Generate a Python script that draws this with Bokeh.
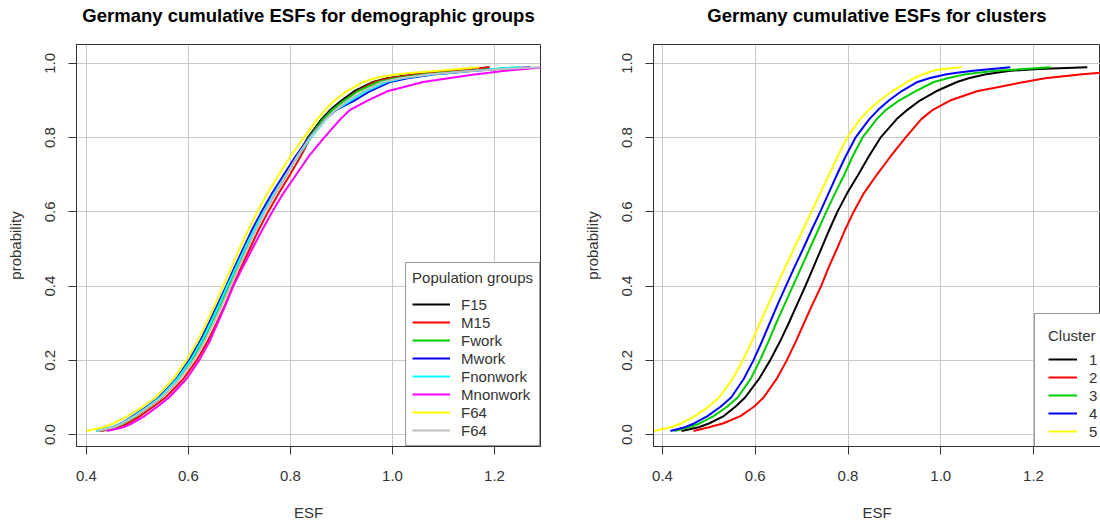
from bokeh.plotting import figure
from bokeh.layouts import row
from bokeh.models import Legend, LegendItem, Range1d, FixedTicker, Title
from bokeh.embed import file_html
from bokeh.resources import INLINE

# ---------------- data ----------------
p_levels = [0.01, 0.02, 0.03, 0.05, 0.075, 0.10, 0.15, 0.20, 0.25, 0.30, 0.35, 0.40, 0.45, 0.50,
            0.55, 0.60, 0.65, 0.70, 0.75, 0.80, 0.85, 0.875, 0.90, 0.925, 0.95, 0.96, 0.97, 0.975,
            0.98, 0.985, 0.99]

group_names = ["F15", "M15", "Fwork", "Mwork", "Fnonwork", "Mnonwork", "F64", "F64"]
group_colors = ["#000000", "#FF0000", "#00CD00", "#0000FF", "#00FFFF", "#FF00FF", "#FFFF00", "#BEBEBE"]
esf_F15 = [0.425, 0.455, 0.473, 0.497, 0.523, 0.547, 0.581, 0.607, 0.628, 0.646, 0.663, 0.679, 0.696, 0.712,
           0.730, 0.749, 0.770, 0.792, 0.813, 0.834, 0.861, 0.878, 0.900, 0.925, 0.962, 0.990, 1.040, 1.080,
           1.120, 1.160, 1.190]
esf_M15 = [0.430, 0.463, 0.481, 0.505, 0.531, 0.555, 0.590, 0.616, 0.637, 0.655, 0.672, 0.687, 0.703, 0.720,
           0.737, 0.756, 0.777, 0.799, 0.820, 0.839, 0.865, 0.882, 0.905, 0.930, 0.965, 0.995, 1.045, 1.085,
           1.125, 1.160, 1.190]
esf_Fwork = [0.425, 0.455, 0.473, 0.497, 0.523, 0.547, 0.581, 0.607, 0.628, 0.646, 0.663, 0.679, 0.695, 0.711,
             0.729, 0.747, 0.768, 0.790, 0.812, 0.836, 0.864, 0.882, 0.905, 0.932, 0.972, 1.005, 1.060, 1.100,
             1.150, 1.200, 1.250]
esf_Mwork = [0.420, 0.451, 0.468, 0.491, 0.518, 0.542, 0.576, 0.601, 0.622, 0.640, 0.657, 0.674, 0.690, 0.707,
             0.724, 0.743, 0.764, 0.787, 0.810, 0.837, 0.869, 0.890, 0.925, 0.955, 0.995, 1.030, 1.080, 1.120,
             1.160, 1.210, 1.270]
esf_Fnonwork = [0.420, 0.451, 0.469, 0.493, 0.520, 0.544, 0.578, 0.604, 0.625, 0.643, 0.660, 0.676, 0.693, 0.710,
                0.728, 0.747, 0.768, 0.791, 0.815, 0.840, 0.870, 0.889, 0.918, 0.948, 0.988, 1.020, 1.075, 1.115,
                1.160, 1.200, 1.250]
esf_Mnonwork = [0.440, 0.473, 0.489, 0.514, 0.539, 0.562, 0.596, 0.621, 0.641, 0.657, 0.673, 0.688, 0.706, 0.725,
                0.744, 0.764, 0.786, 0.811, 0.836, 0.866, 0.898, 0.917, 0.951, 0.990, 1.060, 1.110, 1.160, 1.190,
                1.220, 1.260, 1.300]
esf_F64 = [0.400, 0.433, 0.453, 0.481, 0.510, 0.535, 0.570, 0.596, 0.617, 0.635, 0.652, 0.668, 0.684, 0.700,
           0.717, 0.735, 0.755, 0.777, 0.800, 0.826, 0.853, 0.868, 0.886, 0.910, 0.943, 0.965, 1.005, 1.040,
           1.090, 1.130, 1.170]
esf_F64b = [0.422, 0.453, 0.471, 0.496, 0.523, 0.547, 0.583, 0.610, 0.631, 0.649, 0.666, 0.682, 0.698, 0.715,
            0.732, 0.750, 0.770, 0.792, 0.813, 0.838, 0.869, 0.889, 0.912, 0.942, 0.980, 1.015, 1.070, 1.110,
            1.160, 1.220, 1.290]
group_series = [esf_F15, esf_M15, esf_Fwork, esf_Mwork, esf_Fnonwork, esf_Mnonwork, esf_F64, esf_F64b]

cluster_names = ["1", "2", "3", "4", "5"]
cluster_colors = ["#000000", "#FF0000", "#00CD00", "#0000FF", "#FFFF00"]
esf_c1 = [0.441, 0.478, 0.500, 0.532, 0.557, 0.578, 0.608, 0.632, 0.653, 0.672, 0.690, 0.708, 0.725, 0.742,
          0.759, 0.777, 0.798, 0.822, 0.845, 0.870, 0.905, 0.928, 0.955, 0.990, 1.035, 1.060, 1.095, 1.120,
          1.150, 1.210, 1.316]
esf_c2 = [0.467, 0.500, 0.530, 0.568, 0.597, 0.618, 0.646, 0.668, 0.687, 0.705, 0.723, 0.742, 0.758, 0.776,
          0.793, 0.812, 0.834, 0.862, 0.892, 0.924, 0.958, 0.983, 1.020, 1.078, 1.180, 1.225, 1.300, 1.345,
          1.400, 1.470, 1.550]
esf_c3 = [0.425, 0.458, 0.480, 0.510, 0.539, 0.562, 0.590, 0.610, 0.628, 0.645, 0.663, 0.681, 0.699, 0.717,
          0.735, 0.753, 0.772, 0.792, 0.810, 0.831, 0.862, 0.882, 0.910, 0.945, 0.985, 1.015, 1.050, 1.080,
          1.120, 1.180, 1.237]
esf_c4 = [0.417, 0.448, 0.468, 0.497, 0.525, 0.548, 0.575, 0.596, 0.614, 0.631, 0.648, 0.666, 0.684, 0.703,
          0.721, 0.740, 0.758, 0.776, 0.795, 0.816, 0.846, 0.865, 0.888, 0.915, 0.950, 0.975, 1.010, 1.035,
          1.070, 1.110, 1.150]
esf_c5 = [0.381, 0.418, 0.440, 0.470, 0.499, 0.522, 0.551, 0.573, 0.592, 0.610, 0.628, 0.646, 0.664, 0.683,
          0.702, 0.721, 0.740, 0.759, 0.778, 0.798, 0.826, 0.845, 0.868, 0.895, 0.928, 0.942, 0.960, 0.970,
          0.982, 1.005, 1.045]
cluster_series = [esf_c1, esf_c2, esf_c3, esf_c4, esf_c5]

x_ticks = [0.4, 0.6, 0.8, 1.0, 1.2]
x_tick_labels = ["0.4", "0.6", "0.8", "1.0", "1.2"]
y_ticks = [0.0, 0.2, 0.4, 0.6, 0.8, 1.0]
y_tick_labels = ["0.0", "0.2", "0.4", "0.6", "0.8", "1.0"]

FONT = "Liberation Sans"
TXT = "#333333"


def make_fig(title, width, x_end, min_left, min_right):
    p = figure(width=width, height=523, output_backend="svg", toolbar_location=None, title=None,
               x_range=Range1d(0.3805, x_end), y_range=Range1d(-0.032, 1.051),
               min_border_left=min_left, min_border_right=min_right,
               min_border_top=44, min_border_bottom=74)
    # invisible spacer next to the frame, then the real title above it
    spacer = Title(text=" ", text_font_size="1px", standoff=16, text_color="white")
    p.add_layout(spacer, "above")
    t = Title(text=title, align="center", text_font=FONT, text_font_size="18.5px",
              text_font_style="bold", text_color="#000000", standoff=0)
    p.add_layout(t, "above")
    p.outline_line_color = "#333333"
    p.outline_line_width = 1
    p.background_fill_color = "white"
    p.border_fill_color = "white"

    p.xaxis.ticker = FixedTicker(ticks=x_ticks)
    p.xaxis.major_label_overrides = dict(zip(x_ticks, x_tick_labels))
    p.yaxis.ticker = FixedTicker(ticks=y_ticks)
    p.yaxis.major_label_overrides = dict(zip(y_ticks, y_tick_labels))
    p.xaxis.axis_label = "ESF"
    p.yaxis.axis_label = "probability"
    p.yaxis.major_label_orientation = "vertical"
    for ax in (p.xaxis, p.yaxis):
        ax.axis_line_color = "#333333"
        ax.major_tick_line_color = "#333333"
        ax.major_tick_out = 8
        ax.major_tick_in = 0
        ax.minor_tick_line_color = None
        ax.major_label_text_font = FONT
        ax.major_label_text_font_size = "15px"
        ax.major_label_text_color = TXT
        ax.axis_label_text_font = FONT
        ax.axis_label_text_font_size = "15px"
        ax.axis_label_text_font_style = "normal"
        ax.axis_label_text_color = TXT
    p.xaxis.major_label_standoff = 16
    p.xaxis.axis_label_standoff = 20
    p.yaxis.major_label_standoff = 13
    p.yaxis.axis_label_standoff = 19

    p.xgrid.ticker = FixedTicker(ticks=x_ticks)
    p.ygrid.ticker = FixedTicker(ticks=y_ticks)
    for g in (p.xgrid, p.ygrid):
        g.grid_line_color = "#C8C8C8"
        g.grid_line_width = 1
    return p


def style_legend(lg, padding, glyph_w, standoff, row_h, title_gap):
    lg.title_text_font = FONT
    lg.title_text_font_size = "15px"
    lg.title_text_font_style = "normal"
    lg.title_text_color = TXT
    lg.title_standoff = title_gap
    lg.label_text_font = FONT
    lg.label_text_font_size = "15px"
    lg.label_text_color = TXT
    lg.label_height = row_h
    lg.glyph_height = row_h
    lg.glyph_width = glyph_w
    lg.label_standoff = standoff
    lg.spacing = 0
    lg.padding = padding
    lg.margin = 0
    lg.border_line_color = "#333333"
    lg.border_line_width = 1
    lg.background_fill_color = "white"
    lg.background_fill_alpha = 1.0


# ---------------- left panel ----------------
left = make_fig("Germany cumulative ESFs for demographic groups", 577, 1.2902, 76, 37)
left_items = []
for name, col, xs in zip(group_names, group_colors, group_series):
    r = left.line(x=xs, y=p_levels, line_color=col, line_width=2)
    left_items.append(LegendItem(label=name, renderers=[r]))
lg_left = Legend(items=left_items, title="Population groups", location="bottom_right")
style_legend(lg_left, 6, 38, 11, 18, 9)
left.add_layout(lg_left)

# ---------------- right panel ----------------
right = make_fig("Germany cumulative ESFs for clusters", 523, 1.3445, 76, 0)
right_items = []
for name, col, xs in zip(cluster_names, cluster_colors, cluster_series):
    r = right.line(x=xs, y=p_levels, line_color=col, line_width=2)
    right_items.append(LegendItem(label=name, renderers=[r]))
lg_right = Legend(items=right_items, title="Cluster", location=(381, -8))
style_legend(lg_right, 13, 29, 12, 18, 6)
right.add_layout(lg_right)

layout = row(left, right)
open("out.html", "w").write(file_html(layout, INLINE))
